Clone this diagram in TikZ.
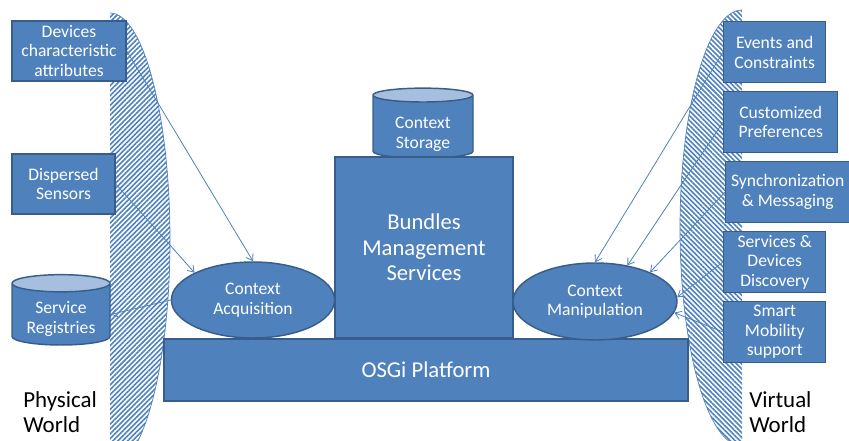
\documentclass[tikz,border=0pt]{standalone}
\usepackage{fontspec}
\setmainfont{Carlito}
\usepackage{tikz}
\usetikzlibrary{arrows.meta,positioning,shapes.geometric,patterns.meta}
\usepackage{xcolor}
\definecolor{obfill}{HTML}{4F81BD}
\definecolor{obline}{HTML}{385D8A}
\definecolor{obcap}{HTML}{A7BFDE}

\begin{document}
\begin{tikzpicture}[x=0.75pt,y=0.75pt,node distance=5.6pt,>={Straight Barb[length=4.5pt,width=6pt]},
box/.style={draw=obline,line width=1.1pt,fill=obfill,text=white,align=center,inner sep=0pt,font=\fontsize{13.2}{14.6}\selectfont},
big/.style={box,font=\fontsize{17}{19}\selectfont},
oval/.style={box,ellipse},
can/.style={box,fill=none,cylinder,shape border rotate=90,aspect=0.25,cylinder uses custom fill,cylinder body fill=obfill,cylinder end fill=obcap},
world/.style={align=left,anchor=west,inner sep=0pt,font=\fontsize{17.2}{19}\selectfont},
link/.style={->,obfill,line width=0.6pt}]
\useasboundingbox (0,0) rectangle (849,441);
\begin{scope}
\clip (0,0) rectangle (849,441);
\fill[pattern={Lines[angle=45,distance=2.6pt,line width=1.2pt]},pattern color=obfill] (110,428) arc[start angle=90,end angle=-90,x radius=60,y radius=227] -- cycle;
\draw[obfill,line width=0.5pt] (110,428) arc[start angle=90,end angle=-90,x radius=60,y radius=227];
\fill[pattern={Lines[angle=-45,distance=2.6pt,line width=1.2pt]},pattern color=obfill] (742,431) arc[start angle=90,end angle=270,x radius=62,y radius=218] -- cycle;
\draw[obfill,line width=0.5pt] (742,431) arc[start angle=90,end angle=270,x radius=62,y radius=218];
\end{scope}
\node[box,minimum width=85.5pt,minimum height=45pt] (dev) at (69,390) {Devices\\characteristic\\attributes};
\node[box,minimum width=77.25pt,minimum height=45pt] (sen) at (63.5,257) {Dispersed\\Sensors};
\node[can,minimum width=73.5pt,minimum height=47.25pt] (reg) at (61,126.5) {\rule{0pt}{16pt}Service\\Registries};
\node[big,minimum width=393pt,minimum height=46.5pt] (osgi) at (426,71) {OSGi Platform};
\node[can,minimum width=75pt,minimum height=49.5pt] (sto) at (423,314) {\rule{0pt}{19.5pt}Context\\Storage};
\node[big,minimum width=133.5pt,minimum height=135.75pt] (bms) at (424,193.5) {Bundles\\Management\\Services};
\node[oval,minimum width=122.4pt,minimum height=57pt] (acq) at (253,141) {Context\\Acquisition};
\node[oval,minimum width=123pt,minimum height=57.75pt] (man) at (595,139.5) {Context\\Manipulation};
\node[box,minimum width=76.5pt,minimum height=45.75pt,anchor=north west] (evt) at (723,420) {Events and\\Constraints};
\node[box,minimum width=85.5pt,minimum height=45.75pt,below=of evt.south west,anchor=north west] (pref) {Customized\\Preferences};
\node[box,minimum width=93pt,minimum height=45.75pt,below=of pref.south west,anchor=north west,xshift=1.5pt] (sync) {Synchronization\\\& Messaging};
\node[box,minimum width=76.5pt,minimum height=45.75pt,below=of sync.south west,anchor=north west,xshift=-1.5pt] (disc) {Services \&\\Devices\\Discovery};
\node[box,minimum width=76.5pt,minimum height=45.75pt,below=of disc.south west,anchor=north west] (mob) {Smart\\Mobility\\support};
\node[world] (phys) at (23,29) {Physical\\World};
\node[world] (virt) at (749,29) {Virtual\\World};
\draw[link] (dev.east)--(acq.north);\draw[link] (sen.east)--(acq.155);\draw[link] (acq.west)--(reg.east);
\draw[link] (evt.west)--(man.north);\draw[link] (pref.west)--(man.48);\draw[link] (sync.west)--(man.28);
\draw[link] (disc.west)--(man.3);\draw[link] (mob.west)--(man.-8);
\end{tikzpicture}
\end{document}
